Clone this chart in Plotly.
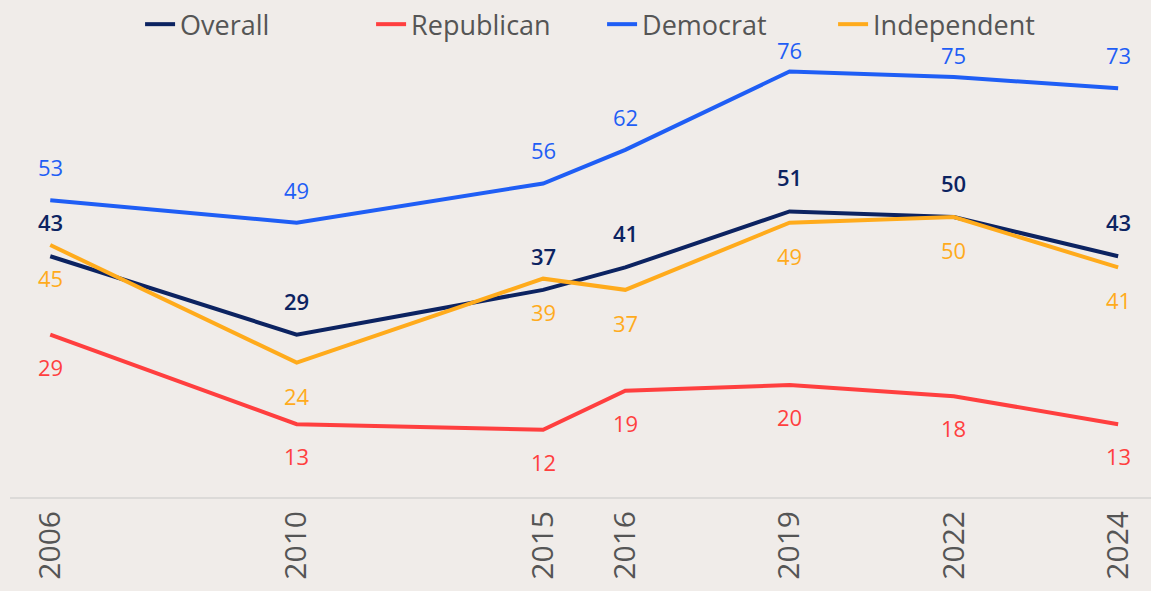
import plotly.graph_objects as go

years = ["2006", "2010", "2015", "2016", "2019", "2022", "2024"]
overall = [43, 29, 37, 41, 51, 50, 43]
republican = [29, 13, 12, 19, 20, 18, 13]
democrat = [53, 49, 56, 62, 76, 75, 73]
independent = [45, 24, 39, 37, 49, 50, 41]

# category slots (blank spacers keep the uneven spacing of the original)
slot_years = {0: "2006", 3: "2010", 6: "2015", 7: "2016", 9: "2019", 11: "2022", 13: "2024"}
category_order = [slot_years.get(i, " " * (i + 1)) for i in range(14)]

FONT = "Open Sans"
series = [
    ("Overall", overall, "#0c2361", 34, 600),
    ("Republican", republican, "#ff3f3f", -32, 400),
    ("Democrat", democrat, "#1f5ef5", 33, 400),
    ("Independent", independent, "#ffab1c", -33, 400),
]

fig = go.Figure()
for name, vals, color, shift, weight in series:
    fig.add_trace(go.Scatter(
        x=years, y=vals, name=name, mode="lines",
        line=dict(color=color, width=4),
    ))
    for yr, v in zip(years, vals):
        # labels near the top are tucked closer to the line to stay clear of the legend
        s = 22 if (shift > 0 and v >= 75) else shift
        fig.add_annotation(
            x=category_order.index(yr), y=v, text=str(v), showarrow=False, yshift=s,
            font=dict(color=color, size=22, family=FONT, weight=weight),
        )

fig.update_layout(
    width=1151, height=591,
    paper_bgcolor="#f0ece9", plot_bgcolor="#f0ece9",
    margin=dict(l=10, r=0, t=0, b=94),
    showlegend=True,
    legend=dict(orientation="h", x=0.114, xanchor="left", y=1.012, yanchor="top",
                font=dict(size=27, color="#555555", family=FONT),
                bgcolor="rgba(0,0,0,0)", entrywidth=186, entrywidthmode="pixels"),
    xaxis=dict(type="category", categoryorder="array", categoryarray=category_order,
               range=[-0.49, 13.4], tickvals=years, ticktext=years, tickangle=-90,
               tickfont=dict(size=30, color="#555555", family=FONT),
               showgrid=False, showline=True, linecolor="#dcdad8", linewidth=2,
               ticks="", ticklen=0, zeroline=False, automargin=False),
    yaxis=dict(range=[0, 87.7], visible=False, showgrid=False, zeroline=False),
    font=dict(family=FONT),
)
fig.write_html("out.html", config={"displayModeBar": False},
               post_script="document.body.style.margin='0';document.body.style.background='#f0ece9';")
